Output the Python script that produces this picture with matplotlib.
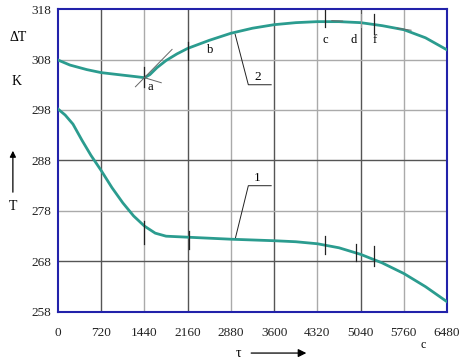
import numpy as np
import matplotlib
matplotlib.use("Agg")
import matplotlib.pyplot as plt

plt.rcParams['font.family'] = ['Liberation Serif', 'DejaVu Serif']

# time, s
t1 = [0, 120, 250, 400, 550, 720, 900, 1080, 1260, 1440, 1620, 1800, 1980,
      2160, 2520, 2880, 3240, 3600, 3960, 4320, 4680, 5040, 5400, 5760,
      6120, 6480]
# curve 1, K
T1 = [298.2, 297.0, 295.2, 292.0, 289.0, 286.0, 282.6, 279.6, 277.0, 275.0,
      273.6, 273.0, 272.9, 272.8, 272.6, 272.4, 272.25, 272.1, 271.9, 271.5,
      270.7, 269.4, 267.7, 265.6, 263.0, 260.0]

t2 = [0, 200, 480, 720, 1080, 1300, 1440, 1530, 1650, 1800, 1980, 2160,
      2520, 2880, 3240, 3600, 3960, 4320, 4680, 5040, 5400, 5760, 6120, 6480]
# curve 2, K
T2 = [307.9, 306.9, 306.0, 305.4, 304.9, 304.6, 304.4, 305.0, 306.4, 307.8,
      309.1, 310.2, 311.8, 313.2, 314.2, 314.9, 315.3, 315.5, 315.5, 315.3,
      314.7, 313.9, 312.3, 309.9]

xticks = [0, 720, 1440, 2160, 2880, 3600, 4320, 5040, 5760, 6480]
yticks = [258, 268, 278, 288, 298, 308, 318]

# short vertical marks on the curves: (t, T bottom, T top)
marks1 = [(1440, 271.5, 276.0), (2190, 270.5, 274.0), (4440, 269.5, 273.0),
          (4960, 268.0, 271.5), (5270, 267.0, 271.0)]
marks2 = [(1440, 302.5, 306.5), (2160, 308.0, 311.5), (4440, 314.4, 317.8),
          (5270, 313.0, 317.0)]
letters = [("a", 1530, 302.5), ("b", 2530, 309.8), ("c", 4460, 311.8),
           ("d", 4930, 311.8), ("f", 5270, 311.8)]

line_col = '#2b9c8f'
blue = '#2222aa'

fig = plt.figure(figsize=(4.6, 3.61), dpi=100)
ax = fig.add_axes([0.126, 0.136, 0.846, 0.839])

dark = [720, 2160, 3600, 5040]
for x in xticks[1:-1]:
    ax.axvline(x, color='#555555' if x in dark else '#aaaaaa', lw=1.0, zorder=1)
for y in yticks[1:-1]:
    ax.axhline(y, color='#555555' if y in (268, 288) else '#aaaaaa', lw=1.0, zorder=1)

ax.plot(t1, T1, color=line_col, lw=2.0, zorder=3)
ax.plot(t2, T2, color=line_col, lw=2.0, zorder=3)

for x, y0, y1 in marks1 + marks2:
    ax.plot([x, x], [y0, y1], color='#222222', lw=0.9, zorder=4)

# tangents at point a
ax.plot([1290, 1900], [302.6, 310.0], color='#666666', lw=0.7, zorder=4)
ax.plot([1440, 1720], [304.4, 303.4], color='#666666', lw=0.7, zorder=4)
# small tangent dashes near c and f
ax.plot([4560, 4740], [315.7, 315.6], color='#666666', lw=0.7, zorder=4)
ax.plot([5650, 5880], [314.2, 313.8], color='#666666', lw=0.7, zorder=4)
ax.plot([5040, 5040], [314.5, 317.0], color='#999999', lw=0.7, zorder=4)

for s, x, y in letters:
    ax.text(x, y, s, fontsize=9, ha='center', va='center', zorder=5)

# leaders for curve numbers
ax.plot([2950, 3170, 3550], [313.0, 303.0, 303.0], color='#222222', lw=0.7)
ax.text(3320, 304.5, "2", fontsize=9.5, ha='center', va='center')
ax.plot([2950, 3170, 3550], [272.4, 283.0, 283.0], color='#222222', lw=0.7)
ax.text(3320, 284.6, "1", fontsize=9.5, ha='center', va='center')

ax.set_xlim(0, 6480)
ax.set_ylim(258, 318)
ax.set_xticks(xticks)
ax.set_yticks(yticks)
ax.tick_params(length=0, labelsize=9.5, colors='#222222')
ax.tick_params(axis='x', pad=11)
ax.tick_params(axis='y', pad=5)
for sp in ax.spines.values():
    sp.set_color(blue)
    sp.set_linewidth(1.5)

fig.text(0.039, 0.897, "ΔT", fontsize=10, ha='center', va='center')
fig.text(0.037, 0.773, "K", fontsize=10, ha='center', va='center')
fig.text(0.028, 0.427, "T", fontsize=10, ha='center', va='center')
fig.patches.append(matplotlib.patches.FancyArrowPatch(
    (0.028, 0.46), (0.028, 0.59), transform=fig.transFigure,
    arrowstyle='-|>', mutation_scale=9, color='black', lw=0.9))
fig.text(0.518, 0.022, "τ", fontsize=10, ha='center', va='center')
fig.patches.append(matplotlib.patches.FancyArrowPatch(
    (0.54, 0.022), (0.672, 0.022), transform=fig.transFigure,
    arrowstyle='-|>', mutation_scale=12, color='black', lw=0.9))
fig.text(0.92, 0.045, "c", fontsize=8.5, ha='center', va='center')

fig.savefig("out.png", dpi=100)
